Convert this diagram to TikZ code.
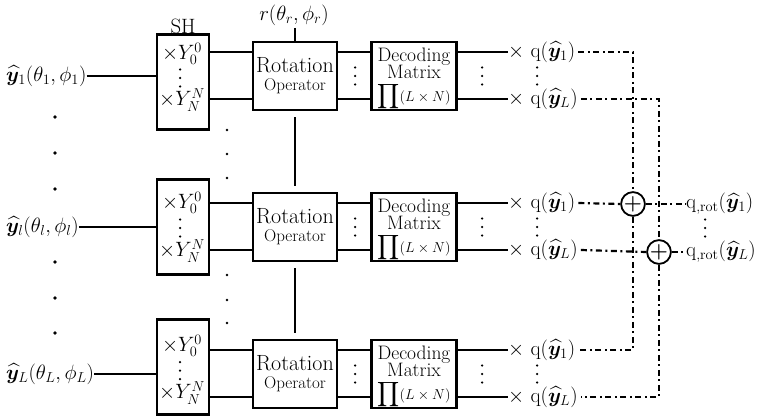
\documentclass[tikz,border=0pt]{standalone}
\usepackage{amsmath,bm}
\usetikzlibrary{calc}
\newcommand{\vdt}[2]{\fill (#1,{#2-8.5}) circle (1.25pt) (#1,{#2}) circle (1.25pt) (#1,{#2+8.5}) circle (1.25pt);}
\begin{document}
\begin{tikzpicture}[x=1pt,y=-1pt,
  font=\fontsize{20.74}{23}\selectfont,
  box/.style={draw,line width=2.3pt,inner sep=0pt},
  wire/.style={line width=2.4pt},
  dd/.style={line width=2.2pt,dash pattern=on 6pt off 3.5pt on 2pt off 3.5pt},
  dotc/.style={circle,fill,inner sep=0pt,minimum size=3.6pt},
  sdot/.style={circle,fill,inner sep=0pt,minimum size=2.8pt},
  txt/.style={inner sep=0pt},
  plus/.style={circle,draw,line width=1.8pt,minimum size=19pt,inner sep=0pt}]
\useasboundingbox (0,0) rectangle (762,417);

\foreach \rw/\yy/\ss/\ya/\yb/\idx in {1/76/82/54/100/1,2/227/227/203/251/l,3/374/367/346/393/L} {
  \coordinate (a\rw) at (0,\yy-24);
  \coordinate (b\rw) at (0,\yy+23);
  % input label
  \node[txt,anchor=west] (in\rw) at (6,\yy) {$\widehat{\bm y}_{\idx}(\theta_{\idx},\phi_{\idx})$};
  % SH box
  \node[box,minimum width=52pt,minimum height=95pt] (sh\rw) at (183,\ss) {};
  \node[txt] (sha\rw) at (182,\ya) {$\times Y_0^0$};
  \node[txt] (shb\rw) at (182,\yb) {$\times Y_N^N$};
  \vdt{180}{(\ya+\yb)/2+1}
  \draw[wire] (in\rw.east) -- (sh\rw.west |- in\rw.east);
  % rotation box
  \node[box,minimum width=84pt,minimum height=68pt] (rot\rw) at (295,\yy) {};
  \node[txt,font=\fontsize{22}{24}\selectfont] (rota\rw) at (295,\yy-11) {Rotation};
  \node[txt,font=\fontsize{17}{19}\selectfont] (rotb\rw) at (295,\yy+10) {Operator};
  \draw[wire] (sh\rw.east |- a\rw) -- (rot\rw.west |- a\rw);
  \draw[wire] (sh\rw.east |- b\rw) -- (rot\rw.west |- b\rw);
  % decoding box
  \node[box,minimum width=85pt,minimum height=68pt] (dec\rw) at (414,\yy) {};
  \node[txt,font=\fontsize{19.5}{21}\selectfont] (deca\rw) at (414,\yy-19) {Decoding};
  \node[txt,font=\fontsize{19.5}{21}\selectfont] (decb\rw) at (414,\yy-4) {Matrix};
  \node[txt] (decc\rw) at (414,\yy+21) {{\fontsize{18}{20}\selectfont$\displaystyle\prod$}{\fontsize{15}{17}\selectfont$(L\times N)$}};
  \vdt{355}{\yy}
  \draw[wire] (rot\rw.east |- a\rw) -- (dec\rw.west |- a\rw);
  \draw[wire] (rot\rw.east |- b\rw) -- (dec\rw.west |- b\rw);
  % outputs
  \node[txt,anchor=west] (qa\rw) at (508,\yy-24) {$\times$ q$(\widehat{\bm y}_1)$};
  \node[txt,anchor=west] (qb\rw) at (508,\yy+23) {$\times$ q$(\widehat{\bm y}_L)$};
  \vdt{482}{\yy}
  \vdt{537}{\yy}
  \draw[wire] (dec\rw.east |- a\rw) -- (qa\rw.west);
  \draw[wire] (dec\rw.east |- b\rw) -- (qb\rw.west);
}

% rotation parameter
\node[txt] (rl) at (294,15) {$r(\theta_r,\phi_r)$};
\coordinate (rtop) at ($(rot1.north)+(0,-13)$);
\draw[wire] (rtop) -- (rot1.north);
\draw[wire,shorten >=6pt,shorten <=6pt] (rot1.south) -- (rot2.north);
\draw[wire,shorten >=6pt,shorten <=6pt] (rot2.south) -- (rot3.north);

% SH label
\node[txt] (shl) at (183,26) {SH};

% dots
\foreach \yy in {117,153,189,262,298,333} \node[dotc] (ld\yy) at (55,\yy) {};
\foreach \yy in {130,154,178,275,300,323} \node[sdot] (md\yy) at (227,\yy) {};

% summation
\node[plus] (p1) at (633,204) {$\bm +$};
\node[plus] (p2) at (659,252) {$\bm +$};
\node[txt,anchor=west] (o1) at (686,204) {q$_{,\mathrm{rot}}(\widehat{\bm y}_1)$};
\node[txt,anchor=west] (o2) at (686,252) {q$_{,\mathrm{rot}}(\widehat{\bm y}_L)$};
\vdt{705}{228}

\draw[dd] ([xshift=3pt]qa1.east) -- (qa1.east -| p1) -- (p1.north);
\draw[dd] (p1.south) -- (qa3.east -| p1) -- ([xshift=3pt]qa3.east);
\draw[dd] ([xshift=3pt]qb1.east) -- (qb1.east -| p2) -- (p2.north);
\draw[dd] (p2.south) -- (qb3.east -| p2) -- ([xshift=3pt]qb3.east);
\draw[dd] ([xshift=3pt]qa2.east) -- (p1.west);
\draw[dd] ([xshift=3pt]qb2.east) -- (p2.west);
\draw[dd] (p1.east) -- (o1.west);
\draw[dd] (p2.east) -- (o2.west);
\end{tikzpicture}
\end{document}
